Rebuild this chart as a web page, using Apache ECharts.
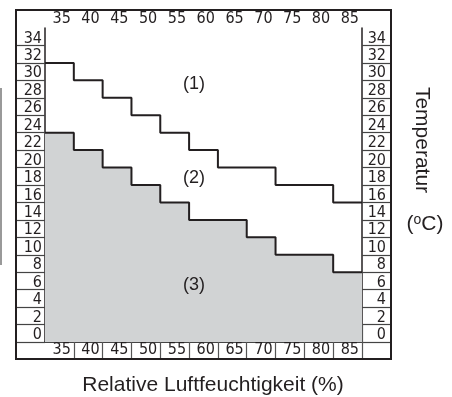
<!DOCTYPE html>
<html>
<head>
<meta charset="utf-8">
<script src="https://cdn.jsdelivr.net/npm/echarts@6/dist/echarts.min.js"></script>
<style>
html,body{margin:0;padding:0;background:#fff;}
#chart{width:452px;height:397px;}
</style>
</head>
<body>
<div id="chart"></div>
<script>
// Relative humidity (%) – left edge of each column, last entry closes the final step
var humidity = [30, 35, 40, 45, 50, 55, 60, 65, 70, 75, 80, 85];
// Upper boundary (between zone 1 and zone 2), °C
var upperLimit = [32, 30, 28, 26, 24, 22, 20, 20, 18, 18, 16, 16];
// Lower boundary (top of grey zone 3), °C
var lowerLimit = [24, 22, 20, 18, 16, 14, 14, 12, 10, 10, 8, 8];
var xTicks = [35, 40, 45, 50, 55, 60, 65, 70, 75, 80, 85];
var yTicks = [0, 2, 4, 6, 8, 10, 12, 14, 16, 18, 20, 22, 24, 26, 28, 30, 32, 34];
var zoneNames = ['(1)', '(2)', '(3)'];
var xTitle = 'Relative Luftfeuchtigkeit (%)';
var yTitle = 'Temperatur';

function pairs(xs, ys) { return xs.map(function (x, i) { return [x, ys[i]]; }); }

var numFont = "'Liberation Sans Narrow', 'DejaVu Sans Condensed', sans-serif";
var txtFont = "'Liberation Sans', Arial, sans-serif";
var ink = '#231f20';

var chart = echarts.init(document.getElementById('chart'), null, {renderer: 'canvas'});

function xAxisDef(pos, tickLen, margin) {
  return {
    type: 'value', position: pos, min: 30, max: 85, interval: 5,
    splitLine: {show: false},
    axisLine: {show: true, lineStyle: {color: '#444', width: 2}},
    axisTick: {show: true, inside: false, length: tickLen, lineStyle: {color: '#555', width: 1.2}},
    axisLabel: {
      show: true, showMinLabel: false, showMaxLabel: true, hideOverlap: false,
      align: 'right', verticalAlign: 'middle', margin: margin,
      padding: [0, 3, 0, 0],
      fontFamily: numFont, fontSize: 16, color: ink,
      formatter: function (v) { return xTicks.indexOf(v) >= 0 ? String(v) : ''; }
    }
  };
}
function yAxisDef(pos, margin) {
  return {
    type: 'value', position: pos, min: 0, max: 36, interval: 2,
    splitLine: {show: false},
    axisLine: {show: true, lineStyle: {color: ink, width: 1.5}},
    axisTick: {show: true, inside: false, length: 29, lineStyle: {color: '#444', width: 1.2}},
    axisLabel: {
      show: true, showMinLabel: true, showMaxLabel: false, hideOverlap: false,
      align: 'right', verticalAlign: 'bottom', margin: margin,
      fontFamily: numFont, fontSize: 16, color: ink, lineHeight: 14,
      formatter: function (v) { return yTicks.indexOf(v) >= 0 ? String(v) : ''; }
    }
  };
}

var option = {
  backgroundColor: '#fff',
  animation: false,
  grid: {left: 45, top: 28, width: 317, height: 314, containLabel: false},
  xAxis: [xAxisDef('bottom', 17, 8), xAxisDef('top', 18, 9)],
  yAxis: [yAxisDef('left', 3), yAxisDef('right', 24)],
  series: [
    {
      type: 'line', step: 'end', data: pairs(humidity, lowerLimit),
      xAxisIndex: 0, yAxisIndex: 0,
      symbol: 'none', z: 1,
      lineStyle: {color: ink, width: 2},
      areaStyle: {color: '#d1d3d4', opacity: 1, origin: 'start'}
    },
    {
      type: 'line', step: 'end', data: pairs(humidity, upperLimit),
      xAxisIndex: 0, yAxisIndex: 0,
      symbol: 'none', z: 2,
      lineStyle: {color: ink, width: 2}
    }
  ],
  graphic: {
    elements: [
      {type: 'rect', z: 100, shape: {x: 16, y: 10, width: 375, height: 349},
       style: {fill: 'none', stroke: ink, lineWidth: 2}},
      {type: 'line', z: 100, shape: {x1: 1, y1: 88, x2: 1, y2: 265},
       style: {stroke: '#999', lineWidth: 2}},
      {type: 'text', z: 100, x: 194, y: 84, style: {text: zoneNames[0], fontFamily: txtFont, fontSize: 18, fill: ink, align: 'center', verticalAlign: 'middle'}},
      {type: 'text', z: 100, x: 194, y: 178, style: {text: zoneNames[1], fontFamily: txtFont, fontSize: 18, fill: ink, align: 'center', verticalAlign: 'middle'}},
      {type: 'text', z: 100, x: 194, y: 285, style: {text: zoneNames[2], fontFamily: txtFont, fontSize: 18, fill: ink, align: 'center', verticalAlign: 'middle'}},
      {type: 'text', z: 100, x: 213, y: 385, style: {text: xTitle, fontFamily: txtFont, fontSize: 21, fill: ink, align: 'center', verticalAlign: 'middle'}},
      {type: 'text', z: 100, x: 422, y: 140, rotation: -Math.PI / 2,
       style: {text: yTitle, fontFamily: txtFont, fontSize: 21, fill: ink, align: 'center', verticalAlign: 'middle'}},
      {type: 'text', z: 100, x: 425, y: 224,
       style: {text: '({s|o}C)', fontFamily: txtFont, fontSize: 21, fill: ink, align: 'center', verticalAlign: 'middle',
         rich: {s: {fontSize: 14, fontFamily: txtFont, fill: ink, verticalAlign: 'top', padding: [0, 0, 8, 0]}}}}
    ]
  }
};
chart.setOption(option);
</script>
</body>
</html>
